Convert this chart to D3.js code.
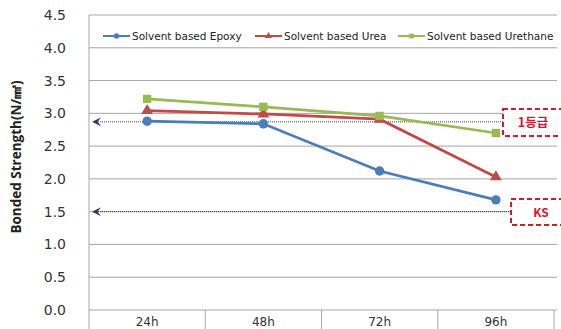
<!DOCTYPE html>
<html>
<head>
<meta charset="utf-8">
<script src="https://cdn.jsdelivr.net/npm/d3@7"></script>
<style>
  body { margin: 0; background: #fff; }
  svg { display: block; }
</style>
</head>
<body>
<div id="chart"></div>
<script>
const width = 561, height = 329;

// data
const categories = ["24h", "48h", "72h", "96h"];
const seriesNames = ["Solvent based Epoxy", "Solvent based Urea", "Solvent based Urethane"];
const epoxy = [2.88, 2.84, 2.12, 1.68];
const urea = [3.04, 2.99, 2.91, 2.03];
const urethane = [3.22, 3.10, 2.96, 2.70];
const yTicks = [0, 0.5, 1.0, 1.5, 2.0, 2.5, 3.0, 3.5, 4.0, 4.5];
const refLines = [
    { value: 2.87, label: "1등급" },
    { value: 1.5, label: "KS" }
];

const colors = ["#4a7ebb", "#be4b48", "#98b954"];
const symbols = [d3.symbolCircle, d3.symbolTriangle, d3.symbolSquare];

const plotLeft = 89, plotRight = 554, plotTop = 15, plotBottom = 310;

const svg = d3.select("#chart")
    .append("svg")
    .attr("width", width)
    .attr("height", height)
    .style("font-family", "'DejaVu Sans', sans-serif");

const x = d3.scaleBand()
    .domain(categories)
    .range([plotLeft, plotRight]);

const y = d3.scaleLinear()
    .domain([0, 4.5])
    .range([plotBottom, plotTop]);

// horizontal grid lines
svg.append("g")
    .selectAll("line")
    .data(yTicks)
    .join("line")
    .attr("x1", plotLeft)
    .attr("x2", 557)
    .attr("y1", d => y(d))
    .attr("y2", d => y(d))
    .attr("stroke", "#a6a6a6")
    .attr("stroke-width", 1);

// left axis line
svg.append("line")
    .attr("x1", plotLeft).attr("x2", plotLeft)
    .attr("y1", plotTop).attr("y2", height)
    .attr("stroke", "#a6a6a6");

// y tick labels
svg.append("g")
    .selectAll("text")
    .data(yTicks)
    .join("text")
    .attr("x", 66)
    .attr("y", d => y(d) + 5)
    .attr("text-anchor", "end")
    .attr("font-size", 14)
    .attr("fill", "#333")
    .text(d => d.toFixed(1));

// y title
svg.append("text")
    .attr("transform", "translate(21,157) rotate(-90)")
    .attr("text-anchor", "middle")
    .attr("font-size", 13.5)
    .attr("font-weight", "bold")
    .attr("fill", "#222")
    .style("font-family", "'Open Sans', sans-serif")
    .text("Bonded Strength(N/㎟)");

// category table cells below the axis
svg.append("g")
    .selectAll("line")
    .data(categories)
    .join("line")
    .attr("x1", d => x(d) + x.bandwidth())
    .attr("x2", d => x(d) + x.bandwidth())
    .attr("y1", plotBottom)
    .attr("y2", height)
    .attr("stroke", "#a6a6a6");

svg.append("g")
    .selectAll("text")
    .data(categories)
    .join("text")
    .attr("x", d => x(d) + x.bandwidth() / 2)
    .attr("y", 326)
    .attr("text-anchor", "middle")
    .attr("font-size", 12)
    .attr("fill", "#333")
    .text(d => d);

// reference lines (dotted with arrow) and dashed boxes
const defs = svg.append("defs");
defs.append("marker")
    .attr("id", "arrow")
    .attr("viewBox", "0 0 10 10")
    .attr("refX", 9)
    .attr("refY", 5)
    .attr("markerWidth", 9)
    .attr("markerHeight", 9)
    .attr("markerUnits", "userSpaceOnUse")
    .attr("orient", "auto")
    .append("path")
    .attr("d", "M0,0 L10,5 L0,10 L4,5 Z")
    .attr("fill", "#1f3864");

const boxes = [
    { x: 503, y1: 109, y2: 136 },
    { x: 511, y1: 199, y2: 225 }
];

refLines.forEach(function (r, i) {
    svg.append("line")
        .attr("x1", boxes[i].x)
        .attr("x2", 93)
        .attr("y1", y(r.value))
        .attr("y2", y(r.value))
        .attr("stroke", "#444")
        .attr("stroke-width", 1)
        .attr("stroke-dasharray", "1,1")
        .attr("marker-end", "url(#arrow)");

    svg.append("rect")
        .attr("x", boxes[i].x)
        .attr("y", boxes[i].y1)
        .attr("width", 70)
        .attr("height", boxes[i].y2 - boxes[i].y1)
        .attr("fill", "#fff")
        .attr("stroke", "#d21a2c")
        .attr("stroke-width", 2)
        .attr("stroke-dasharray", "5,3");

    svg.append("text")
        .attr("x", i === 0 ? 533 : 541)
        .attr("y", (boxes[i].y1 + boxes[i].y2) / 2 + 4.5)
        .attr("text-anchor", "middle")
        .attr("font-size", i === 0 ? 12.5 : 12)
        .attr("font-weight", "bold")
        .attr("fill", "#d21a2c")
        .style("font-family", "'Noto Sans CJK KR', sans-serif")
        .text(r.label);
});

// series
const allSeries = [epoxy, urea, urethane];
const line = d3.line()
    .x((d, i) => x(categories[i]) + x.bandwidth() / 2)
    .y(d => y(d));

allSeries.forEach(function (vals, s) {
    svg.append("path")
        .datum(vals)
        .attr("fill", "none")
        .attr("stroke", colors[s])
        .attr("stroke-width", 2.75)
        .attr("d", line);

    svg.append("g")
        .selectAll("path")
        .data(vals)
        .join("path")
        .attr("transform", (d, i) => "translate(" + (x(categories[i]) + x.bandwidth() / 2) + "," + y(d) + ")")
        .attr("d", d3.symbol().type(symbols[s]).size(s === 1 ? 60 : 70))
        .attr("fill", colors[s]);
});

// legend
const legendX = [103, 255, 398];
seriesNames.forEach(function (name, s) {
    const g = svg.append("g").attr("transform", "translate(" + legendX[s] + ",36)");
    g.append("line")
        .attr("x1", 0).attr("x2", 27)
        .attr("stroke", colors[s])
        .attr("stroke-width", 2);
    g.append("path")
        .attr("transform", "translate(13.5,0)")
        .attr("d", d3.symbol().type(symbols[s]).size(22))
        .attr("fill", colors[s]);
    g.append("text")
        .attr("x", 29)
        .attr("y", 3.5)
        .attr("font-size", 10.5)
        .attr("fill", "#222")
        .text(name);
});
</script>
</body>
</html>
